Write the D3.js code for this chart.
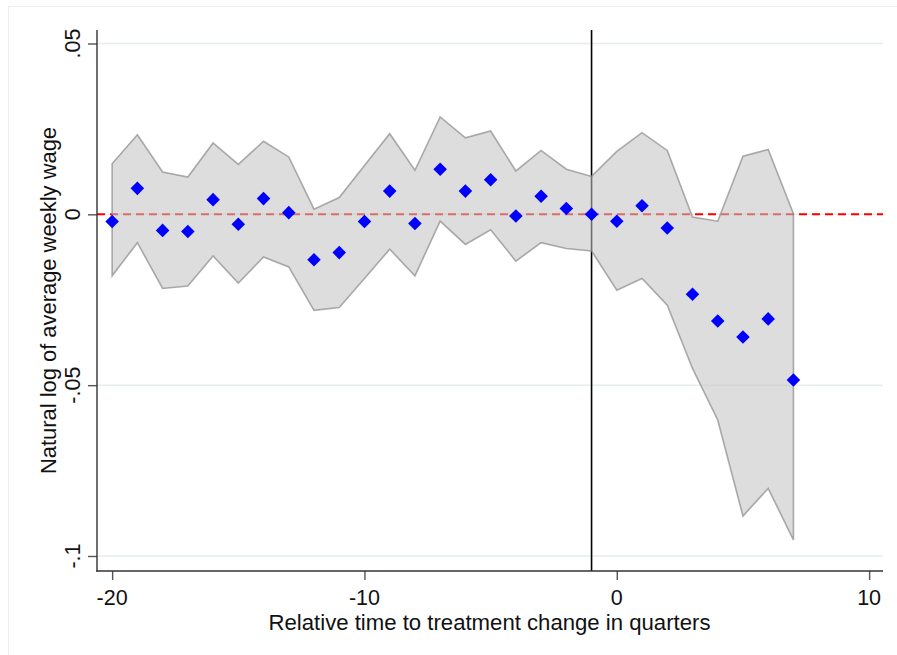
<!DOCTYPE html>
<html>
<head>
<meta charset="utf-8">
<script src="https://cdn.jsdelivr.net/npm/d3@7"></script>
<style>
  html, body { margin: 0; padding: 0; background: #fff; }
  svg { display: block; }
  text { font-family: "Liberation Sans", Arial, sans-serif; fill: #111; }
</style>
</head>
<body>
<svg id="chart" width="897" height="655"></svg>
<script>
// ---- data ----
const periods = [-20,-19,-18,-17,-16,-15,-14,-13,-12,-11,-10,-9,-8,-7,-6,-5,-4,-3,-2,-1,0,1,2,3,4,5,6,7];
const coef = [-0.0021,0.0076,-0.0047,-0.0050,0.0043,-0.0029,0.0046,0.0005,-0.0133,-0.0112,-0.0021,0.0068,-0.0027,0.0132,0.0068,0.0101,-0.0005,0.0053,0.0017,0.0000,-0.0020,0.0025,-0.0040,-0.0234,-0.0312,-0.0359,-0.0306,-0.0485];
const ciUpper = [0.0148,0.0233,0.0124,0.0109,0.0209,0.0146,0.0214,0.0168,0.0015,0.0049,0.0143,0.0236,0.0129,0.0285,0.0224,0.0244,0.0127,0.0187,0.0132,0.0111,0.0184,0.0239,0.0187,-0.0008,-0.0020,0.0170,0.0190,0.0002];
const ciLower = [-0.0180,-0.0083,-0.0217,-0.0210,-0.0122,-0.0201,-0.0125,-0.0154,-0.0281,-0.0273,-0.0188,-0.0102,-0.0180,-0.0020,-0.0088,-0.0045,-0.0137,-0.0083,-0.0100,-0.0107,-0.0222,-0.0188,-0.0266,-0.0451,-0.0602,-0.0883,-0.0802,-0.0953];
const xTickValues = [-20,-10,0,10];
const xTickLabels = ["-20","-10","0","10"];
const yTickValues = [-0.1,-0.05,0,0.05];
const yTickLabels = ["-.1","-.05","0",".05"];
const refLineX = -1;
const refLineY = 0;
const xTitle = "Relative time to treatment change in quarters";
const yTitle = "Natural log of average weekly wage";

const rows = periods.map((p,i) => ({x:p, b:coef[i], lo:ciLower[i], hi:ciUpper[i]}));

// ---- layout ----
const svg = d3.select("#chart");
const pLeft = 97, pRight = 883, pTop = 30, pBottom = 571;
const x = d3.scaleLinear().domain([-20.6, 10.55]).range([pLeft, pRight]);
const y = d3.scaleLinear().domain([-0.1, 0.05]).range([556, 43.5]);

// outer graph region border
svg.append("rect").attr("x",8.5).attr("y",6.5).attr("width",900).attr("height",660)
  .attr("fill","none").attr("stroke","#eeeeee").attr("stroke-width",1);

// gridlines
svg.append("g").selectAll("line").data(yTickValues).join("line")
  .attr("x1",pLeft).attr("x2",pRight)
  .attr("y1",d=>y(d)).attr("y2",d=>y(d))
  .attr("stroke","#e6eef0").attr("stroke-width",1.5);

// horizontal reference line (red dashed)
svg.append("line")
  .attr("x1",pLeft).attr("x2",pRight)
  .attr("y1",y(refLineY)).attr("y2",y(refLineY))
  .attr("stroke","#ff0000").attr("stroke-width",2)
  .attr("stroke-dasharray","8,5");

// vertical reference line
svg.append("line")
  .attr("x1",x(refLineX)).attr("x2",x(refLineX))
  .attr("y1",pTop).attr("y2",pBottom)
  .attr("stroke","#000").attr("stroke-width",1.6);

// confidence band
const area = d3.area().x(d=>x(d.x)).y0(d=>y(d.lo)).y1(d=>y(d.hi));
svg.append("path").datum(rows).attr("d",area)
  .attr("fill","rgb(195,195,195)").attr("fill-opacity",0.56)
  .attr("stroke","#8a8a8a").attr("stroke-opacity",0.7).attr("stroke-width",1.6)
  .attr("stroke-linejoin","miter");

// points (diamonds)
const sym = d3.symbol(d3.symbolSquare, 92);
svg.append("g").selectAll("path").data(rows).join("path")
  .attr("d",sym)
  .attr("transform",d=>`translate(${x(d.x)},${y(d.b)}) rotate(45)`)
  .attr("fill","#0000ff");

// axes
const yAxis = d3.axisLeft(y).tickValues(yTickValues).tickSize(9).tickFormat("");
const gy = svg.append("g").attr("transform",`translate(${pLeft},0)`).call(yAxis);
gy.select(".domain").remove();
gy.selectAll(".tick line").attr("stroke","#555").attr("stroke-width",1.4);
svg.append("line").attr("x1",pLeft).attr("x2",pLeft).attr("y1",pTop).attr("y2",pBottom+0.7)
  .attr("stroke","#333").attr("stroke-width",1.4);

const xAxis = d3.axisBottom(x).tickValues(xTickValues).tickSize(9).tickFormat("");
const gx = svg.append("g").attr("transform",`translate(0,${pBottom})`).call(xAxis);
gx.select(".domain").remove();
gx.selectAll(".tick line").attr("stroke","#555").attr("stroke-width",1.4);
svg.append("line").attr("x1",pLeft-0.7).attr("x2",pRight).attr("y1",pBottom).attr("y2",pBottom)
  .attr("stroke","#333").attr("stroke-width",1.4);

// tick labels
svg.append("g").selectAll("text").data(xTickValues).join("text")
  .attr("x",d=>x(d)).attr("y",605)
  .attr("text-anchor","middle").attr("font-size",21.5)
  .text((d,i)=>xTickLabels[i]);

svg.append("g").selectAll("text").data(yTickValues).join("text")
  .attr("transform",d=>`translate(80,${y(d)}) rotate(-90)`)
  .attr("text-anchor","middle").attr("font-size",21.5)
  .text((d,i)=>yTickLabels[i]);

// axis titles
svg.append("text").attr("x",(pLeft+pRight)/2 - 0.5).attr("y",630)
  .attr("text-anchor","middle").attr("font-size",21.5)
  .attr("textLength",442).attr("lengthAdjust","spacingAndGlyphs").text(xTitle);
svg.append("text").attr("transform",`translate(56,${(pTop+pBottom)/2}) rotate(-90)`)
  .attr("text-anchor","middle").attr("font-size",21.5)
  .attr("textLength",347).attr("lengthAdjust","spacingAndGlyphs").text(yTitle);
</script>
</body>
</html>
